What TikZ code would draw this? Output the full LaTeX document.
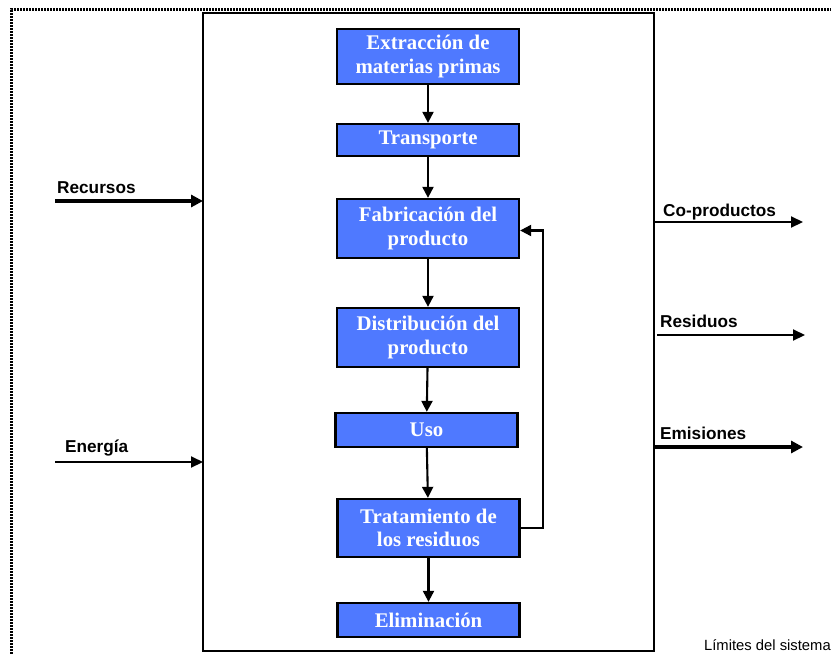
\documentclass[tikz,border=0pt]{standalone}
\usepackage{fontspec}
\setmainfont{Liberation Serif}
\setsansfont{Liberation Sans}
\usetikzlibrary{arrows.meta,calc}
\definecolor{stepblue}{RGB}{79,121,255}
\tikzset{
  stage/.style={draw=black, line width=2.3pt, fill=stepblue, text=white,
    minimum width=182pt, align=center, inner sep=0pt,
    font=\fontsize{20.8}{23.5}\selectfont\bfseries},
  flow/.style={line width=2.1pt, -{Triangle[length=11pt,width=11pt]}},
  io/.style={line width=2.1pt, -{Triangle[length=12pt,width=11pt]}},
  iothick/.style={line width=3.6pt, -{Triangle[length=12pt,width=12pt]}},
  iolabel/.style={anchor=base west, inner sep=0pt,
    font=\sffamily\bfseries\fontsize{17.2}{19}\selectfont},
}
\begin{document}
\begin{tikzpicture}[x=1pt,y=-1pt]
\useasboundingbox (0,0) rectangle (831,654);

% outer (dotted) system limit, running off the page to the right and bottom
\draw[line width=3pt, black, dash pattern=on 2pt off 1pt] (11,660) -- (11,9) -- (840,9);

% inner process boundary
\draw[line width=2.3pt] (203,13) rectangle (654,651);
\coordinate (sysW) at (203,13);
\coordinate (sysE) at (654,13);

% life-cycle stages
\node[stage, minimum height=55pt] (ext)  at (428,56.5) {Extracción de\\materias primas};
\node[stage, minimum height=32pt] (tra)  at (428,140)  {Transporte};
\node[stage, minimum height=59pt] (fab)  at (428,228.5){Fabricación del\\producto};
\node[stage, minimum height=59pt] (dis)  at (428,337.5){Distribución del\\producto};
\node[stage, minimum height=34pt] (uso)  at (426.5,430){Uso};
\node[stage, minimum height=58pt] (trat) at (428.5,528){Tratamiento de\\los residuos};
\node[stage, minimum height=34pt] (eli)  at (428.5,620){Eliminación};

% stage-to-stage flow
\draw[flow] (ext) -- (tra);
\draw[flow] (tra) -- (fab);
\draw[flow] (fab) -- (dis);
\draw[flow] (dis) -- (uso);
\draw[flow] (uso) -- (trat);
\draw[flow] (trat) -- (eli);
% recycling loop back to manufacturing
\draw[flow] (trat.east) -- ++(22,0) |- ($(fab.east)+(0,2)$);

% inputs
\coordinate (rec) at (55,201);
\coordinate (ene) at (55,462);
\draw[iothick] (rec) -- (rec -| sysW);
\draw[io] (ene) -- (ene -| sysW);
\node[iolabel] (lrec) at (57,193) {Recursos};
\node[iolabel] (lene) at (65,452) {Energía};

% outputs
\coordinate (cop) at (803,222);
\coordinate (res) at (805,335);
\coordinate (emi) at (803,447);
\draw[io] (cop -| sysE) -- (cop);
\draw[io] ($(res -| sysE)+(3,0)$) -- (res);
\draw[iothick] ($(emi -| sysE)+(1,0)$) -- (emi);
\node[iolabel] (lcop) at (663,216) {Co-productos};
\node[iolabel] (lres) at (660,327) {Residuos};
\node[iolabel] (lemi) at (660,439) {Emisiones};

% caption of the outer limit
\node[anchor=base east, inner sep=0pt, font=\sffamily\fontsize{14.8}{16}\selectfont]
  (lim) at (831,650) {Límites del sistema};
\end{tikzpicture}
\end{document}
